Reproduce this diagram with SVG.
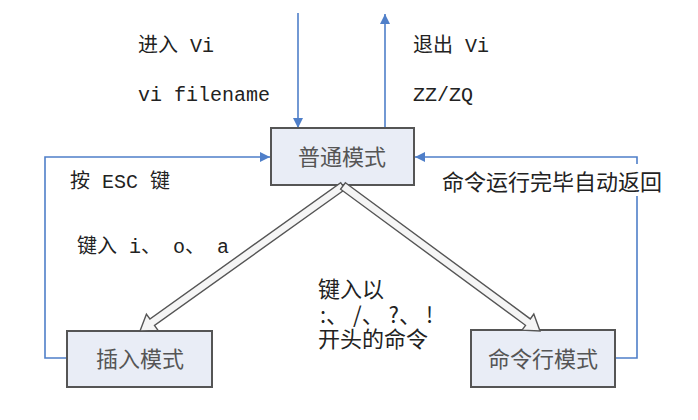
<svg xmlns="http://www.w3.org/2000/svg" width="698" height="420" viewBox="0 0 698 420">
<style>
.bg{fill:#ffffff}
.box{fill:#e9edf6;stroke:#555;stroke-width:2}
.boxt{font-family:"Noto Sans CJK SC",sans-serif;font-size:22px;fill:#555;text-anchor:middle}
.ln{fill:none;stroke:#4f7fc9;stroke-width:1.6}
.dbl{fill:#f5f5f5;stroke:#555;stroke-width:1.4;stroke-linejoin:miter}
.mono{font-family:"Liberation Mono","Noto Sans CJK SC",monospace;font-size:20px;fill:#222}
.sans{font-family:"Noto Sans CJK SC",sans-serif;font-size:22px;fill:#222}
</style>
<defs>
<marker id="ah" viewBox="0 0 10 10" refX="10" refY="5" markerWidth="10" markerHeight="10" markerUnits="userSpaceOnUse" orient="auto">
<path d="M0,0 L10,5 L0,10 Z" fill="#4f7fc9"/>
</marker>
</defs>
<rect class="bg" x="0" y="0" width="698" height="420"/>
<g id="connectors">
<path class="ln" d="M298,13 V128" marker-end="url(#ah)"/>
<path class="ln" d="M385,128 V14" marker-end="url(#ah)"/>
<path class="ln" d="M67,358 H45 V157 H270" marker-end="url(#ah)"/>
<path class="ln" d="M615,358 H637 V157 H415" marker-end="url(#ah)"/>
</g>
<g id="normal-mode">
<rect class="box" x="271" y="128" width="143" height="57"/>
<text class="boxt" x="342" y="165">普通模式</text>
</g>
<g id="insert-mode">
<rect class="box" x="67" y="331" width="145" height="56"/>
<text class="boxt" x="140" y="367">插入模式</text>
</g>
<g id="command-mode">
<rect class="box" x="471" y="330" width="144" height="57"/>
<text class="boxt" x="543" y="367">命令行模式</text>
</g>
<g id="double-arrows">
<polygon class="dbl" points="345.3,189.3 154.5,325.5 158,330.4 140,331 146.4,314.2 149.9,319 340.7,182.7"/>
<polygon class="dbl" points="345.4,182.8 530.3,318.9 533.8,314 540,331 522,330.2 525.5,325.3 340.6,189.2"/>
</g>
<g id="labels">
<text class="mono" x="138" y="52">进入 Vi</text>
<text class="mono" x="138" y="101">vi filename</text>
<text class="mono" x="413" y="52">退出 Vi</text>
<text class="mono" x="413" y="101">ZZ/ZQ</text>
<text class="mono" x="70" y="188">按 ESC 键</text>
<text class="mono" x="77" y="253">键入 i、 o、 a</text>
<rect class="bg" x="440" y="164" width="246" height="32"/>
<text class="sans" x="442" y="190">命令运行完毕自动返回</text>
<text class="sans" x="318" y="297">键入以</text>
<text class="sans" x="320" y="323">:、 /、 ?、 !</text>
<text class="sans" x="318" y="347">开头的命令</text>
</g>
</svg>
